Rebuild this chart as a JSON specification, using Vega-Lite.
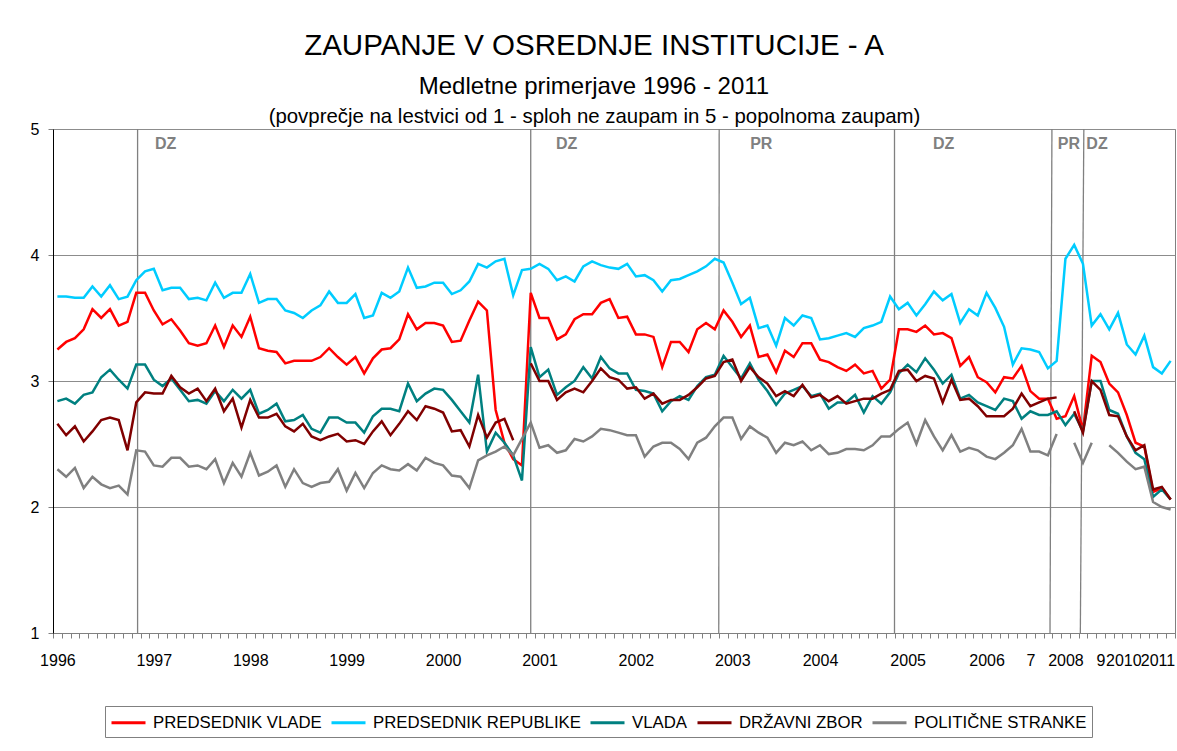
{
"$schema":"https://vega.github.io/schema/vega-lite/v6.json",
"width":1122,"height":504,
"autosize":{"type":"none"},
"padding":{"left":53,"top":129,"right":2,"bottom":118},
"background":"white",
"title":{"text":"ZAUPANJE V OSREDNJE INSTITUCIJE - A","subtitle":"Medletne primerjave 1996 - 2011","font":"Liberation Sans","subtitleFont":"Liberation Sans","fontSize":29.5,"subtitleFontSize":24,"fontWeight":"normal","color":"#000","subtitleColor":"#000","anchor":"middle","frame":"group","dx":-20,"subtitlePadding":14,"offset":6},
"config":{
 "view":{"stroke":"#808080","strokeWidth":1},
 "legend":{"orient":"none","legendX":52,"legendY":577,"direction":"horizontal","columns":5,"symbolType":"M-1,0H2.4","symbolSize":400,"symbolStrokeWidth":3,"labelFontSize":16.8,"labelFont":"Liberation Sans","labelColor":"#000","labelOffset":20,"columnPadding":3,"padding":5,"strokeColor":"#808080","fillColor":"white","labelLimit":400}
},
"datasets":{
"pv":[{"i":0,"v":3.25},{"i":1,"v":3.31},{"i":2,"v":3.34},{"i":3,"v":3.41},{"i":4,"v":3.57},{"i":5,"v":3.5},{"i":6,"v":3.57},{"i":7,"v":3.44},{"i":8,"v":3.47},{"i":9,"v":3.7},{"i":10,"v":3.7},{"i":11,"v":3.56},{"i":12,"v":3.45},{"i":13,"v":3.49},{"i":14,"v":3.4},{"i":15,"v":3.3},{"i":16,"v":3.28},{"i":17,"v":3.3},{"i":18,"v":3.44},{"i":19,"v":3.27},{"i":20,"v":3.44},{"i":21,"v":3.35},{"i":22,"v":3.51},{"i":23,"v":3.26},{"i":24,"v":3.24},{"i":25,"v":3.23},{"i":26,"v":3.14},{"i":27,"v":3.16},{"i":28,"v":3.16},{"i":29,"v":3.16},{"i":30,"v":3.19},{"i":31,"v":3.26},{"i":32,"v":3.19},{"i":33,"v":3.13},{"i":34,"v":3.19},{"i":35,"v":3.06},{"i":36,"v":3.18},{"i":37,"v":3.25},{"i":38,"v":3.26},{"i":39,"v":3.33},{"i":40,"v":3.53},{"i":41,"v":3.41},{"i":42,"v":3.46},{"i":43,"v":3.46},{"i":44,"v":3.44},{"i":45,"v":3.31},{"i":46,"v":3.32},{"i":47,"v":3.48},{"i":48,"v":3.63},{"i":49,"v":3.56},{"i":50,"v":2.77},{"i":51,"v":2.51},{"i":52,"v":2.38},{"i":53,"v":2.33},{"i":54,"v":3.7},{"i":55,"v":3.5},{"i":56,"v":3.5},{"i":57,"v":3.33},{"i":58,"v":3.37},{"i":59,"v":3.49},{"i":60,"v":3.53},{"i":61,"v":3.53},{"i":62,"v":3.62},{"i":63,"v":3.65},{"i":64,"v":3.5},{"i":65,"v":3.51},{"i":66,"v":3.37},{"i":67,"v":3.37},{"i":68,"v":3.35},{"i":69,"v":3.11},{"i":70,"v":3.31},{"i":71,"v":3.31},{"i":72,"v":3.23},{"i":73,"v":3.41},{"i":74,"v":3.46},{"i":75,"v":3.41},{"i":76,"v":3.56},{"i":77,"v":3.47},{"i":78,"v":3.35},{"i":79,"v":3.44},{"i":80,"v":3.19},{"i":81,"v":3.21},{"i":82,"v":3.07},{"i":83,"v":3.24},{"i":84,"v":3.19},{"i":85,"v":3.3},{"i":86,"v":3.3},{"i":87,"v":3.17},{"i":88,"v":3.15},{"i":89,"v":3.11},{"i":90,"v":3.08},{"i":91,"v":3.13},{"i":92,"v":3.06},{"i":93,"v":3.08},{"i":94,"v":2.94},{"i":95,"v":3.01},{"i":96,"v":3.41},{"i":97,"v":3.41},{"i":98,"v":3.39},{"i":99,"v":3.44},{"i":100,"v":3.37},{"i":101,"v":3.38},{"i":102,"v":3.34},{"i":103,"v":3.12},{"i":104,"v":3.19},{"i":105,"v":3.03},{"i":106,"v":2.99},{"i":107,"v":2.91},{"i":108,"v":3.03},{"i":109,"v":3.02},{"i":110,"v":3.12},{"i":111,"v":2.92},{"i":112,"v":2.86},{"i":113,"v":2.86},{"i":114,"v":2.7},{"i":115,"v":2.72},{"i":116,"v":2.88},{"i":117,"v":2.61},{"i":118,"v":3.2},{"i":119,"v":3.15},{"i":120,"v":2.98},{"i":121,"v":2.91},{"i":122,"v":2.73},{"i":123,"v":2.51},{"i":124,"v":2.48},{"i":125,"v":2.12},{"i":126,"v":2.15},{"i":127,"v":2.06}],
"pr":[{"i":0,"v":3.67},{"i":1,"v":3.67},{"i":2,"v":3.66},{"i":3,"v":3.66},{"i":4,"v":3.75},{"i":5,"v":3.67},{"i":6,"v":3.76},{"i":7,"v":3.65},{"i":8,"v":3.67},{"i":9,"v":3.8},{"i":10,"v":3.87},{"i":11,"v":3.89},{"i":12,"v":3.72},{"i":13,"v":3.74},{"i":14,"v":3.74},{"i":15,"v":3.65},{"i":16,"v":3.66},{"i":17,"v":3.64},{"i":18,"v":3.78},{"i":19,"v":3.66},{"i":20,"v":3.7},{"i":21,"v":3.7},{"i":22,"v":3.85},{"i":23,"v":3.62},{"i":24,"v":3.65},{"i":25,"v":3.65},{"i":26,"v":3.56},{"i":27,"v":3.54},{"i":28,"v":3.5},{"i":29,"v":3.56},{"i":30,"v":3.6},{"i":31,"v":3.71},{"i":32,"v":3.62},{"i":33,"v":3.62},{"i":34,"v":3.69},{"i":35,"v":3.5},{"i":36,"v":3.52},{"i":37,"v":3.7},{"i":38,"v":3.66},{"i":39,"v":3.71},{"i":40,"v":3.9},{"i":41,"v":3.74},{"i":42,"v":3.75},{"i":43,"v":3.78},{"i":44,"v":3.78},{"i":45,"v":3.69},{"i":46,"v":3.72},{"i":47,"v":3.79},{"i":48,"v":3.93},{"i":49,"v":3.9},{"i":50,"v":3.95},{"i":51,"v":3.97},{"i":52,"v":3.68},{"i":53,"v":3.88},{"i":54,"v":3.89},{"i":55,"v":3.93},{"i":56,"v":3.89},{"i":57,"v":3.8},{"i":58,"v":3.83},{"i":59,"v":3.79},{"i":60,"v":3.91},{"i":61,"v":3.95},{"i":62,"v":3.92},{"i":63,"v":3.9},{"i":64,"v":3.89},{"i":65,"v":3.93},{"i":66,"v":3.83},{"i":67,"v":3.84},{"i":68,"v":3.8},{"i":69,"v":3.71},{"i":70,"v":3.8},{"i":71,"v":3.81},{"i":72,"v":3.84},{"i":73,"v":3.87},{"i":74,"v":3.91},{"i":75,"v":3.97},{"i":76,"v":3.94},{"i":77,"v":3.78},{"i":78,"v":3.61},{"i":79,"v":3.66},{"i":80,"v":3.42},{"i":81,"v":3.44},{"i":82,"v":3.28},{"i":83,"v":3.5},{"i":84,"v":3.44},{"i":85,"v":3.52},{"i":86,"v":3.5},{"i":87,"v":3.33},{"i":88,"v":3.34},{"i":89,"v":3.36},{"i":90,"v":3.38},{"i":91,"v":3.35},{"i":92,"v":3.42},{"i":93,"v":3.44},{"i":94,"v":3.47},{"i":95,"v":3.67},{"i":96,"v":3.57},{"i":97,"v":3.62},{"i":98,"v":3.52},{"i":99,"v":3.61},{"i":100,"v":3.71},{"i":101,"v":3.64},{"i":102,"v":3.69},{"i":103,"v":3.46},{"i":104,"v":3.57},{"i":105,"v":3.52},{"i":106,"v":3.7},{"i":107,"v":3.58},{"i":108,"v":3.43},{"i":109,"v":3.13},{"i":110,"v":3.26},{"i":111,"v":3.25},{"i":112,"v":3.23},{"i":113,"v":3.1},{"i":114,"v":3.16},{"i":115,"v":3.97},{"i":116,"v":4.08},{"i":117,"v":3.93},{"i":118,"v":3.44},{"i":119,"v":3.53},{"i":120,"v":3.41},{"i":121,"v":3.54},{"i":122,"v":3.29},{"i":123,"v":3.21},{"i":124,"v":3.36},{"i":125,"v":3.11},{"i":126,"v":3.06},{"i":127,"v":3.16}],
"vl":[{"i":0,"v":2.84},{"i":1,"v":2.86},{"i":2,"v":2.82},{"i":3,"v":2.89},{"i":4,"v":2.91},{"i":5,"v":3.03},{"i":6,"v":3.09},{"i":7,"v":3.01},{"i":8,"v":2.94},{"i":9,"v":3.13},{"i":10,"v":3.13},{"i":11,"v":3.01},{"i":12,"v":2.96},{"i":13,"v":3.02},{"i":14,"v":2.93},{"i":15,"v":2.84},{"i":16,"v":2.85},{"i":17,"v":2.82},{"i":18,"v":2.92},{"i":19,"v":2.84},{"i":20,"v":2.93},{"i":21,"v":2.86},{"i":22,"v":2.93},{"i":23,"v":2.74},{"i":24,"v":2.77},{"i":25,"v":2.82},{"i":26,"v":2.68},{"i":27,"v":2.69},{"i":28,"v":2.73},{"i":29,"v":2.62},{"i":30,"v":2.59},{"i":31,"v":2.71},{"i":32,"v":2.71},{"i":33,"v":2.67},{"i":34,"v":2.67},{"i":35,"v":2.59},{"i":36,"v":2.72},{"i":37,"v":2.78},{"i":38,"v":2.78},{"i":39,"v":2.76},{"i":40,"v":2.98},{"i":41,"v":2.84},{"i":42,"v":2.9},{"i":43,"v":2.94},{"i":44,"v":2.93},{"i":45,"v":2.85},{"i":46,"v":2.76},{"i":47,"v":2.67},{"i":48,"v":3.05},{"i":49,"v":2.44},{"i":50,"v":2.59},{"i":51,"v":2.51},{"i":52,"v":2.41},{"i":53,"v":2.21},{"i":54,"v":3.27},{"i":55,"v":3.03},{"i":56,"v":3.09},{"i":57,"v":2.89},{"i":58,"v":2.95},{"i":59,"v":3.0},{"i":60,"v":3.11},{"i":61,"v":3.02},{"i":62,"v":3.19},{"i":63,"v":3.1},{"i":64,"v":3.06},{"i":65,"v":3.06},{"i":66,"v":2.93},{"i":67,"v":2.92},{"i":68,"v":2.9},{"i":69,"v":2.76},{"i":70,"v":2.84},{"i":71,"v":2.88},{"i":72,"v":2.85},{"i":73,"v":2.96},{"i":74,"v":3.03},{"i":75,"v":3.05},{"i":76,"v":3.2},{"i":77,"v":3.11},{"i":78,"v":3.02},{"i":79,"v":3.14},{"i":80,"v":3.01},{"i":81,"v":2.92},{"i":82,"v":2.81},{"i":83,"v":2.9},{"i":84,"v":2.93},{"i":85,"v":2.96},{"i":86,"v":2.88},{"i":87,"v":2.9},{"i":88,"v":2.78},{"i":89,"v":2.83},{"i":90,"v":2.83},{"i":91,"v":2.89},{"i":92,"v":2.75},{"i":93,"v":2.88},{"i":94,"v":2.82},{"i":95,"v":2.91},{"i":96,"v":3.06},{"i":97,"v":3.13},{"i":98,"v":3.07},{"i":99,"v":3.18},{"i":100,"v":3.09},{"i":101,"v":2.98},{"i":102,"v":3.05},{"i":103,"v":2.86},{"i":104,"v":2.89},{"i":105,"v":2.83},{"i":106,"v":2.8},{"i":107,"v":2.77},{"i":108,"v":2.86},{"i":109,"v":2.84},{"i":110,"v":2.7},{"i":111,"v":2.76},{"i":112,"v":2.73},{"i":113,"v":2.73},{"i":114,"v":2.76},{"i":115,"v":2.65},{"i":116,"v":2.74},{"i":117,"v":2.6},{"i":118,"v":3.0},{"i":119,"v":3.0},{"i":120,"v":2.77},{"i":121,"v":2.74},{"i":122,"v":2.56},{"i":123,"v":2.43},{"i":124,"v":2.38},{"i":125,"v":2.08},{"i":126,"v":2.14},{"i":127,"v":2.06}],
"dz":[{"i":0,"v":2.66},{"i":1,"v":2.57},{"i":2,"v":2.64},{"i":3,"v":2.52},{"i":4,"v":2.6},{"i":5,"v":2.69},{"i":6,"v":2.71},{"i":7,"v":2.69},{"i":8,"v":2.45},{"i":9,"v":2.83},{"i":10,"v":2.91},{"i":11,"v":2.9},{"i":12,"v":2.9},{"i":13,"v":3.04},{"i":14,"v":2.95},{"i":15,"v":2.9},{"i":16,"v":2.94},{"i":17,"v":2.84},{"i":18,"v":2.94},{"i":19,"v":2.76},{"i":20,"v":2.86},{"i":21,"v":2.63},{"i":22,"v":2.85},{"i":23,"v":2.71},{"i":24,"v":2.71},{"i":25,"v":2.74},{"i":26,"v":2.64},{"i":27,"v":2.6},{"i":28,"v":2.66},{"i":29,"v":2.56},{"i":30,"v":2.53},{"i":31,"v":2.56},{"i":32,"v":2.58},{"i":33,"v":2.52},{"i":34,"v":2.53},{"i":35,"v":2.5},{"i":36,"v":2.6},{"i":37,"v":2.68},{"i":38,"v":2.57},{"i":39,"v":2.66},{"i":40,"v":2.76},{"i":41,"v":2.69},{"i":42,"v":2.8},{"i":43,"v":2.78},{"i":44,"v":2.75},{"i":45,"v":2.6},{"i":46,"v":2.61},{"i":47,"v":2.48},{"i":48,"v":2.73},{"i":49,"v":2.55},{"i":50,"v":2.67},{"i":51,"v":2.7},{"i":52,"v":2.53},{"i":53,"v":null},{"i":54,"v":3.14},{"i":55,"v":3.0},{"i":56,"v":3.0},{"i":57,"v":2.85},{"i":58,"v":2.91},{"i":59,"v":2.94},{"i":60,"v":2.91},{"i":61,"v":3.0},{"i":62,"v":3.1},{"i":63,"v":3.03},{"i":64,"v":3.01},{"i":65,"v":2.94},{"i":66,"v":2.95},{"i":67,"v":2.86},{"i":68,"v":2.9},{"i":69,"v":2.82},{"i":70,"v":2.85},{"i":71,"v":2.85},{"i":72,"v":2.89},{"i":73,"v":2.95},{"i":74,"v":3.02},{"i":75,"v":3.04},{"i":76,"v":3.15},{"i":77,"v":3.17},{"i":78,"v":3.0},{"i":79,"v":3.11},{"i":80,"v":3.03},{"i":81,"v":2.98},{"i":82,"v":2.88},{"i":83,"v":2.92},{"i":84,"v":2.88},{"i":85,"v":2.97},{"i":86,"v":2.87},{"i":87,"v":2.89},{"i":88,"v":2.84},{"i":89,"v":2.88},{"i":90,"v":2.82},{"i":91,"v":2.84},{"i":92,"v":2.86},{"i":93,"v":2.86},{"i":94,"v":2.9},{"i":95,"v":2.93},{"i":96,"v":3.08},{"i":97,"v":3.09},{"i":98,"v":3.0},{"i":99,"v":3.04},{"i":100,"v":3.02},{"i":101,"v":2.83},{"i":102,"v":3.01},{"i":103,"v":2.85},{"i":104,"v":2.86},{"i":105,"v":2.8},{"i":106,"v":2.72},{"i":107,"v":2.72},{"i":108,"v":2.72},{"i":109,"v":2.78},{"i":110,"v":2.9},{"i":111,"v":2.8},{"i":112,"v":2.83},{"i":113,"v":2.86},{"i":114,"v":2.87},{"i":115,"v":null},{"i":116,"v":2.76},{"i":117,"v":2.59},{"i":118,"v":3.0},{"i":119,"v":2.93},{"i":120,"v":2.73},{"i":121,"v":2.72},{"i":122,"v":2.56},{"i":123,"v":2.45},{"i":124,"v":2.49},{"i":125,"v":2.14},{"i":126,"v":2.16},{"i":127,"v":2.06}],
"ps":[{"i":0,"v":2.3},{"i":1,"v":2.24},{"i":2,"v":2.31},{"i":3,"v":2.15},{"i":4,"v":2.24},{"i":5,"v":2.18},{"i":6,"v":2.15},{"i":7,"v":2.17},{"i":8,"v":2.1},{"i":9,"v":2.45},{"i":10,"v":2.44},{"i":11,"v":2.33},{"i":12,"v":2.32},{"i":13,"v":2.39},{"i":14,"v":2.39},{"i":15,"v":2.32},{"i":16,"v":2.33},{"i":17,"v":2.3},{"i":18,"v":2.38},{"i":19,"v":2.19},{"i":20,"v":2.35},{"i":21,"v":2.24},{"i":22,"v":2.43},{"i":23,"v":2.25},{"i":24,"v":2.28},{"i":25,"v":2.33},{"i":26,"v":2.16},{"i":27,"v":2.3},{"i":28,"v":2.19},{"i":29,"v":2.16},{"i":30,"v":2.19},{"i":31,"v":2.2},{"i":32,"v":2.3},{"i":33,"v":2.13},{"i":34,"v":2.27},{"i":35,"v":2.15},{"i":36,"v":2.27},{"i":37,"v":2.33},{"i":38,"v":2.3},{"i":39,"v":2.29},{"i":40,"v":2.34},{"i":41,"v":2.29},{"i":42,"v":2.39},{"i":43,"v":2.35},{"i":44,"v":2.33},{"i":45,"v":2.25},{"i":46,"v":2.24},{"i":47,"v":2.15},{"i":48,"v":2.37},{"i":49,"v":2.41},{"i":50,"v":2.44},{"i":51,"v":2.48},{"i":52,"v":2.41},{"i":53,"v":2.54},{"i":54,"v":2.67},{"i":55,"v":2.47},{"i":56,"v":2.49},{"i":57,"v":2.43},{"i":58,"v":2.45},{"i":59,"v":2.54},{"i":60,"v":2.52},{"i":61,"v":2.56},{"i":62,"v":2.62},{"i":63,"v":2.61},{"i":64,"v":2.59},{"i":65,"v":2.57},{"i":66,"v":2.57},{"i":67,"v":2.4},{"i":68,"v":2.48},{"i":69,"v":2.51},{"i":70,"v":2.51},{"i":71,"v":2.46},{"i":72,"v":2.38},{"i":73,"v":2.51},{"i":74,"v":2.55},{"i":75,"v":2.64},{"i":76,"v":2.71},{"i":77,"v":2.71},{"i":78,"v":2.54},{"i":79,"v":2.64},{"i":80,"v":2.59},{"i":81,"v":2.55},{"i":82,"v":2.43},{"i":83,"v":2.51},{"i":84,"v":2.49},{"i":85,"v":2.52},{"i":86,"v":2.45},{"i":87,"v":2.49},{"i":88,"v":2.42},{"i":89,"v":2.43},{"i":90,"v":2.46},{"i":91,"v":2.46},{"i":92,"v":2.45},{"i":93,"v":2.49},{"i":94,"v":2.56},{"i":95,"v":2.56},{"i":96,"v":2.62},{"i":97,"v":2.67},{"i":98,"v":2.5},{"i":99,"v":2.69},{"i":100,"v":2.56},{"i":101,"v":2.45},{"i":102,"v":2.57},{"i":103,"v":2.44},{"i":104,"v":2.47},{"i":105,"v":2.45},{"i":106,"v":2.4},{"i":107,"v":2.38},{"i":108,"v":2.43},{"i":109,"v":2.49},{"i":110,"v":2.62},{"i":111,"v":2.44},{"i":112,"v":2.44},{"i":113,"v":2.41},{"i":114,"v":2.58},{"i":115,"v":null},{"i":116,"v":2.51},{"i":117,"v":2.35},{"i":118,"v":2.51},{"i":119,"v":null},{"i":120,"v":2.49},{"i":121,"v":2.43},{"i":122,"v":2.36},{"i":123,"v":2.3},{"i":124,"v":2.32},{"i":125,"v":2.04},{"i":126,"v":2.0},{"i":127,"v":1.98}],
"crte":[{"oznaka":"DZ","zgoraj":9.15,"spodaj":9.15},{"oznaka":"DZ","zgoraj":54,"spodaj":54},{"oznaka":"PR","zgoraj":75.5,"spodaj":75.45},{"oznaka":"DZ","zgoraj":95.5,"spodaj":95.5},{"oznaka":"PR","zgoraj":113.46,"spodaj":113.24},{"oznaka":"DZ","zgoraj":117.1,"spodaj":116.7}],
"oznake":[{"oznaka":"DZ","i":12.36},{"oznaka":"DZ","i":58.1},{"oznaka":"PR","i":80.3},{"oznaka":"DZ","i":101.1},{"oznaka":"PR","i":115.4},{"oznaka":"DZ","i":118.6}]
},
"resolve":{"axis":{"x":"independent","y":"independent"}},
"layer":[
{"data":{"name":"crte"},
 "mark":{"type":"rule","color":"#808080","strokeWidth":1.3},
 "encoding":{
  "x":{"field":"zgoraj","type":"quantitative","scale":{"domain":[-0.5,127.5],"nice":false,"zero":false},
   "axis":{"orient":"bottom","values":[0,11,22,33,44,55,66,77,87,97,106,111,115,119,121.6,125.5],"labelExpr":"datum.value < 5 ? '1996' : datum.value < 15 ? '1997' : datum.value < 25 ? '1998' : datum.value < 38 ? '1999' : datum.value < 50 ? '2000' : datum.value < 60 ? '2001' : datum.value < 70 ? '2002' : datum.value < 82 ? '2003' : datum.value < 92 ? '2004' : datum.value < 100 ? '2005' : datum.value < 108 ? '2006' : datum.value < 113 ? '7' : datum.value < 117 ? '2008' : datum.value < 120 ? '9' : datum.value < 123 ? '2010' : '2011'","domain":false,"ticks":false,"tickSize":0,"grid":false,"labelPadding":19,"labelFontSize":16,"labelFont":"Liberation Sans","labelColor":"#000","labelOverlap":false,"labelFlush":false,"labelBound":false,"title":null}},
  "x2":{"field":"spodaj"},
  "y":{"datum":5,"type":"quantitative","scale":{"domain":[1,5],"nice":false,"zero":false},"axis":null},
  "y2":{"datum":1}
 }},
{"data":{"name":"oznake"},
 "mark":{"type":"text","font":"Liberation Sans","fontSize":16,"fontWeight":"bold","color":"#808080","align":"center","baseline":"middle"},
 "encoding":{
  "x":{"field":"i","type":"quantitative","axis":{"orient":"top","domain":false,"ticks":false,"labels":false,"grid":false,"title":"(povprečje na lestvici od 1 - sploh ne zaupam in 5 - popolnoma zaupam)","titleFontSize":20.4,"titleFontWeight":"normal","titleFont":"Liberation Sans","titleColor":"#000","titlePadding":3,"titleX":541,"titleAlign":"center"}},
  "y":{"datum":4.88,"type":"quantitative","axis":null},
  "text":{"field":"oznaka"}
 }},
{"data":{"name":"pv"},
 "mark":{"type":"line","strokeWidth":2.5,"invalid":"break-paths-show-domains"},
 "encoding":{
  "x":{"field":"i","type":"quantitative","axis":{"orient":"bottom","values":[-0.5,0.5,1.5,2.5,3.5,4.5,5.5,6.5,7.5,8.5,9.5,10.5,11.5,12.5,13.5,14.5,15.5,16.5,17.5,18.5,19.5,20.5,21.5,22.5,23.5,24.5,25.5,26.5,27.5,28.5,29.5,30.5,31.5,32.5,33.5,34.5,35.5,36.5,37.5,38.5,39.5,40.5,41.5,42.5,43.5,44.5,45.5,46.5,47.5,48.5,49.5,50.5,51.5,52.5,53.5,54.5,55.5,56.5,57.5,58.5,59.5,60.5,61.5,62.5,63.5,64.5,65.5,66.5,67.5,68.5,69.5,70.5,71.5,72.5,73.5,74.5,75.5,76.5,77.5,78.5,79.5,80.5,81.5,82.5,83.5,84.5,85.5,86.5,87.5,88.5,89.5,90.5,91.5,92.5,93.5,94.5,95.5,96.5,97.5,98.5,99.5,100.5,101.5,102.5,103.5,104.5,105.5,106.5,107.5,108.5,109.5,110.5,111.5,112.5,113.5,114.5,115.5,116.5,117.5,118.5,119.5,120.5,121.5,122.5,123.5,124.5,125.5,126.5,127.5],"labels":false,"grid":false,"tickSize":5,"tickColor":"#808080","domainColor":"#808080","title":null}},
  "y":{"field":"v","type":"quantitative","axis":{"orient":"left","values":[1,2,3,4,5],"format":"d","grid":true,"gridColor":"#8c8c8c","gridWidth":1,"domainColor":"#000","tickColor":"#808080","tickSize":5,"labelFontSize":16,"labelFont":"Liberation Sans","labelColor":"#000","labelPadding":9,"title":null}},
  "color":{"datum":"PREDSEDNIK VLADE","scale":{"domain":["PREDSEDNIK VLADE","PREDSEDNIK REPUBLIKE","VLADA","DRŽAVNI ZBOR","POLITIČNE STRANKE"],"range":["#FF0000","#00CCFF","#008080","#800000","#808080"]},"legend":{"title":null}}
 }},
{"data":{"name":"pr"},
 "mark":{"type":"line","strokeWidth":2.5,"invalid":"break-paths-show-domains"},
 "encoding":{"x":{"field":"i","type":"quantitative","axis":null},"y":{"field":"v","type":"quantitative","axis":null},
  "color":{"datum":"PREDSEDNIK REPUBLIKE","scale":{"domain":["PREDSEDNIK VLADE","PREDSEDNIK REPUBLIKE","VLADA","DRŽAVNI ZBOR","POLITIČNE STRANKE"],"range":["#FF0000","#00CCFF","#008080","#800000","#808080"]},"legend":{"title":null}}}},
{"data":{"name":"vl"},
 "mark":{"type":"line","strokeWidth":2.5,"invalid":"break-paths-show-domains"},
 "encoding":{"x":{"field":"i","type":"quantitative","axis":null},"y":{"field":"v","type":"quantitative","axis":null},
  "color":{"datum":"VLADA","scale":{"domain":["PREDSEDNIK VLADE","PREDSEDNIK REPUBLIKE","VLADA","DRŽAVNI ZBOR","POLITIČNE STRANKE"],"range":["#FF0000","#00CCFF","#008080","#800000","#808080"]},"legend":{"title":null}}}},
{"data":{"name":"dz"},
 "mark":{"type":"line","strokeWidth":2.5,"invalid":"break-paths-show-domains"},
 "encoding":{"x":{"field":"i","type":"quantitative","axis":null},"y":{"field":"v","type":"quantitative","axis":null},
  "color":{"datum":"DRŽAVNI ZBOR","scale":{"domain":["PREDSEDNIK VLADE","PREDSEDNIK REPUBLIKE","VLADA","DRŽAVNI ZBOR","POLITIČNE STRANKE"],"range":["#FF0000","#00CCFF","#008080","#800000","#808080"]},"legend":{"title":null}}}},
{"data":{"name":"ps"},
 "mark":{"type":"line","strokeWidth":2.5,"invalid":"break-paths-show-domains"},
 "encoding":{"x":{"field":"i","type":"quantitative","axis":null},"y":{"field":"v","type":"quantitative","axis":null},
  "color":{"datum":"POLITIČNE STRANKE","scale":{"domain":["PREDSEDNIK VLADE","PREDSEDNIK REPUBLIKE","VLADA","DRŽAVNI ZBOR","POLITIČNE STRANKE"],"range":["#FF0000","#00CCFF","#008080","#800000","#808080"]},"legend":{"title":null}}}}
]
}
